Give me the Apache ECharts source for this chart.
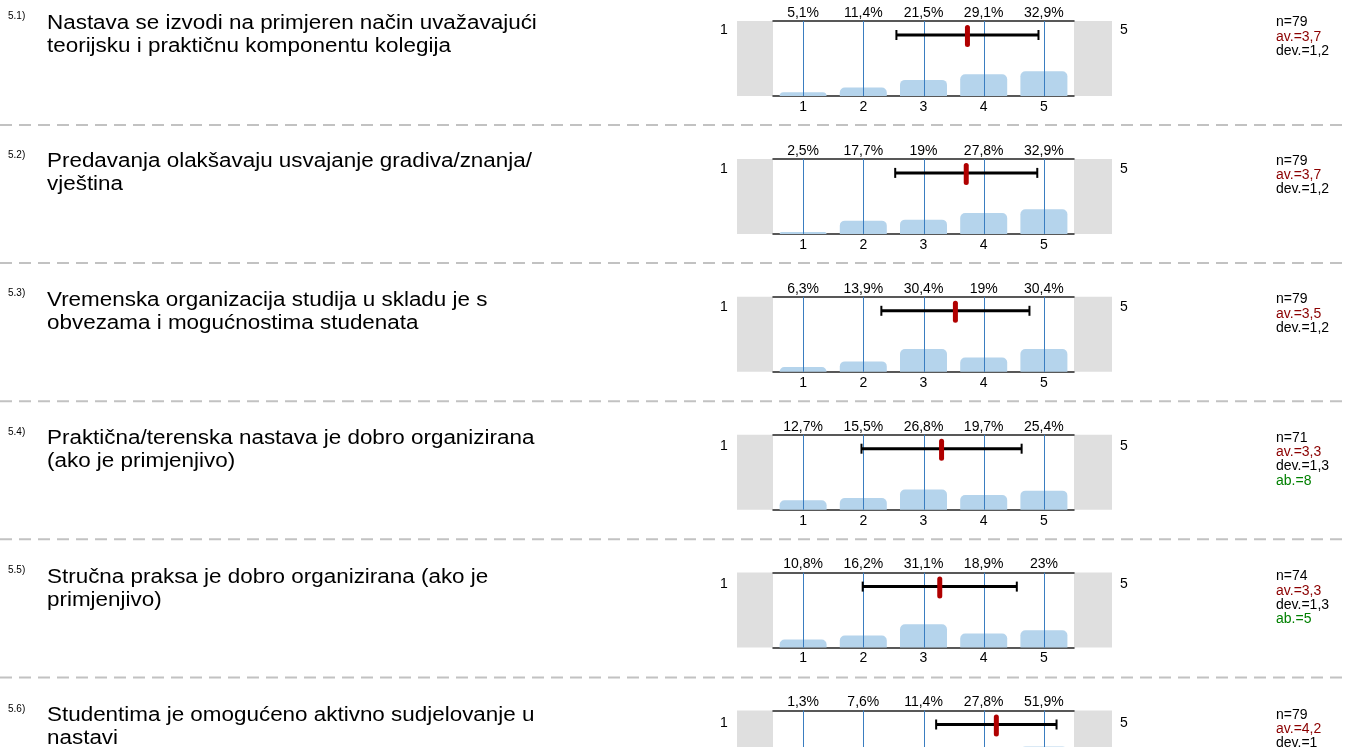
<!DOCTYPE html>
<html>
<head>
<meta charset="utf-8">
<script src="https://cdn.jsdelivr.net/npm/echarts@6/dist/echarts.min.js"></script>
<style>
  html, body { margin: 0; background: #fff; overflow: hidden; }
  #main { width: 1346px; height: 830px; }
</style>
</head>
<body>
<div id="main"></div>
<script>
var qNums = ['5.1)', '5.2)', '5.3)', '5.4)', '5.5)', '5.6)'];
var questions = [
    'Nastava se izvodi na primjeren način uvažavajući\nteorijsku i praktičnu komponentu kolegija',
    'Predavanja olakšavaju usvajanje gradiva/znanja/\nvještina',
    'Vremenska organizacija studija u skladu je s\nobvezama i mogućnostima studenata',
    'Praktična/terenska nastava je dobro organizirana\n(ako je primjenjivo)',
    'Stručna praksa je dobro organizirana (ako je\nprimjenjivo)',
    'Studentima je omogućeno aktivno sudjelovanje u\nnastavi'
];
var cats = ['1', '2', '3', '4', '5'];
var pct1 = [5.1, 11.4, 21.5, 29.1, 32.9];
var pct2 = [2.5, 17.7, 19, 27.8, 32.9];
var pct3 = [6.3, 13.9, 30.4, 19, 30.4];
var pct4 = [12.7, 15.5, 26.8, 19.7, 25.4];
var pct5 = [10.8, 16.2, 31.1, 18.9, 23];
var pct6 = [1.3, 7.6, 11.4, 27.8, 51.9];
var pcts = [pct1, pct2, pct3, pct4, pct5, pct6];
var nResp = [79, 79, 79, 71, 74, 79];
var means = [3.73, 3.71, 3.53, 3.30, 3.27, 4.21];
var devs = [1.18, 1.18, 1.23, 1.33, 1.28, 1.00];
var abst = [null, null, null, 8, 5, null];

var FONT = '"Liberation Sans", Arial, sans-serif';
var PANEL_TOP = 21, PANEL_STEP = 137.9, PANEL_H = 75;
var TEXT_TOP = 23, TEXT_STEP = 138.5;

function fmt(v) {
    var s = (Math.round(v * 10) / 10).toString();
    return s.replace('.', ',');
}

var myChart = echarts.init(document.getElementById('main'));
var grids = [], xAxes = [], yAxes = [], series = [], graphics = [];

// dashed separators
for (var s = 0; s < 5; s++) {
    var sy = 125 + s * 138.1;
    graphics.push({
        type: 'line', silent: true,
        shape: { x1: 0, y1: sy, x2: 1346, y2: sy },
        style: { stroke: '#c2c2c2', lineWidth: 2, lineDash: [12, 7] }
    });
}

for (var i = 0; i < pcts.length; i++) {
    var rowTop = PANEL_TOP + i * PANEL_STEP;
    var ty = TEXT_TOP + i * TEXT_STEP;

    grids.push({ left: 773, top: rowTop, width: 301, height: PANEL_H });

    xAxes.push({
        type: 'category', gridIndex: i, position: 'bottom', data: cats,
        axisLine: { lineStyle: { color: '#222', width: 1.5 } },
        axisTick: { show: false },
        splitLine: { show: false },
        axisLabel: { color: '#000', fontSize: 14, fontFamily: FONT, margin: 4 }
    });
    xAxes.push({
        type: 'category', gridIndex: i, position: 'top',
        data: pcts[i].map(function (v) { return fmt(v) + '%'; }),
        axisLine: { lineStyle: { color: '#222', width: 1.5 } },
        axisTick: { show: false },
        splitLine: { show: false },
        axisLabel: { color: '#000', fontSize: 14, fontFamily: FONT, margin: 1 }
    });
    xAxes.push({ type: 'value', gridIndex: i, min: 0.5, max: 5.5, show: false, splitLine: { show: false } });
    yAxes.push({ type: 'value', gridIndex: i, min: 0, max: 100, show: false, splitLine: { show: false } });

    series.push({
        type: 'bar',
        xAxisIndex: i * 3, yAxisIndex: i,
        data: pcts[i],
        barWidth: 47,
        silent: true,
        itemStyle: { color: '#b5d4ec', borderRadius: [5, 5, 0, 0] }
    });

    // blue guide lines at each answer value
    series.push({
        type: 'custom',
        xAxisIndex: i * 3 + 2, yAxisIndex: i,
        silent: true,
        z: 5,
        data: cats.map(Number),
        renderItem: function (params, api) {
            var x = Math.round(api.coord([api.value(0), 0])[0]) + 0.5;
            var cs = params.coordSys;
            return {
                type: 'line',
                shape: { x1: x, y1: cs.y, x2: x, y2: cs.y + cs.height },
                style: { stroke: '#3a7dc0', lineWidth: 1 }
            };
        }
    });

    // mean +- dev
    series.push({
        type: 'custom',
        xAxisIndex: i * 3 + 2, yAxisIndex: i,
        silent: true,
        z: 6,
        data: [[means[i], devs[i]]],
        renderItem: function (params, api) {
            var m = api.value(0), d = api.value(1);
            var x0 = api.coord([m - d, 0])[0];
            var x1 = api.coord([m + d, 0])[0];
            var xm = api.coord([m, 0])[0];
            var y = params.coordSys.y + 14;
            return {
                type: 'group',
                children: [
                    { type: 'line', shape: { x1: x0, y1: y, x2: x1, y2: y }, style: { stroke: '#000', lineWidth: 3 } },
                    { type: 'line', shape: { x1: x0, y1: y - 5, x2: x0, y2: y + 5 }, style: { stroke: '#000', lineWidth: 2 } },
                    { type: 'line', shape: { x1: x1, y1: y - 5, x2: x1, y2: y + 5 }, style: { stroke: '#000', lineWidth: 2 } },
                    { type: 'rect', shape: { x: xm - 2.5, y: y - 10, width: 5, height: 22, r: 2.5 }, style: { fill: '#b00000' } }
                ]
            };
        }
    });

    graphics.push({ type: 'rect', silent: true, shape: { x: 737, y: rowTop, width: 36, height: PANEL_H }, style: { fill: '#dfdfdf' } });
    graphics.push({ type: 'rect', silent: true, shape: { x: 1074, y: rowTop, width: 38, height: PANEL_H }, style: { fill: '#dfdfdf' } });
    graphics.push({ type: 'text', silent: true, style: { x: 724, y: ty + 7.5, text: cats[0], font: '14px ' + FONT, fill: '#000', align: 'center', verticalAlign: 'middle' } });
    graphics.push({ type: 'text', silent: true, style: { x: 1124, y: ty + 7.5, text: cats[4], font: '14px ' + FONT, fill: '#000', align: 'center', verticalAlign: 'middle' } });

    graphics.push({ type: 'text', silent: true, style: { x: 8, y: ty - 6.5, text: qNums[i], font: '10px ' + FONT, fill: '#000', verticalAlign: 'middle' } });
    // the source text is set a bit wide, so stretch it horizontally
    graphics.push({
        type: 'text', silent: true, x: 47, y: ty - 11, scaleX: 1.15,
        style: { x: 0, y: 0, text: questions[i], font: '19.5px ' + FONT, lineHeight: 23, fill: '#000', verticalAlign: 'top' }
    });

    var lines = [
        { t: 'n=' + nResp[i], c: '#000' },
        { t: 'av.=' + fmt(means[i]), c: '#8b0000' },
        { t: 'dev.=' + fmt(devs[i]), c: '#000' }
    ];
    if (abst[i] != null) lines.push({ t: 'ab.=' + abst[i], c: '#008000' });
    for (var k = 0; k < lines.length; k++) {
        graphics.push({ type: 'text', silent: true, style: { x: 1276, y: ty - 0.5 + k * 14.3, text: lines[k].t, font: '14px ' + FONT, fill: lines[k].c, verticalAlign: 'middle' } });
    }
}

var option = {
    animation: false,
    grid: grids,
    xAxis: xAxes,
    yAxis: yAxes,
    series: series,
    graphic: graphics
};
myChart.setOption(option);
</script>
</body>
</html>
